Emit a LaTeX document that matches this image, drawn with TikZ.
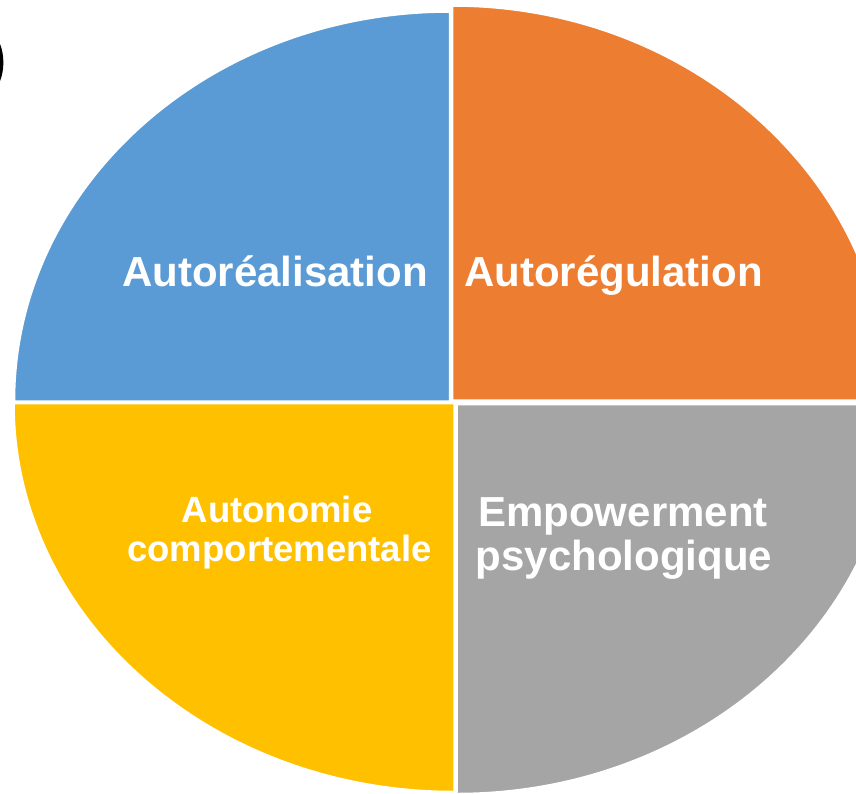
\documentclass[tikz,border=0pt]{standalone}
\usepackage{fontspec}
\setmainfont{Liberation Sans}
\definecolor{qblue}{HTML}{5B9BD5}
\definecolor{qorange}{HTML}{ED7D31}
\definecolor{qyellow}{HTML}{FFC000}
\definecolor{qgray}{HTML}{A5A5A5}
\tikzset{
  quad/.style={draw=white, line width=1.5pt, line join=miter},
  bigtxt/.style={text=white, font=\fontsize{42}{44}\selectfont\bfseries, inner sep=0pt, anchor=base},
  midtxt/.style={text=white, font=\fontsize{36.5}{38}\selectfont\bfseries, inner sep=0pt, anchor=base}
}
\begin{document}
\begin{tikzpicture}[x=1pt,y=-1pt]
\useasboundingbox (0,0) rectangle (856,793);
\clip (0,0) rectangle (856,793);
% quadrants (image coordinates, y downward)
\coordinate (cb) at (449.5,401);
\coordinate (co) at (452.5,400);
\coordinate (cy) at (454,403.5);
\coordinate (cg) at (457,404.5);
\fill[qblue, quad] (cb) -- ++(-435,0) arc[start angle=180, end angle=270, x radius=435, y radius=389] -- cycle;
\fill[qorange, quad] (co) -- ++(0,-394) arc[start angle=270, end angle=360, x radius=435, y radius=394] -- cycle;
\fill[qgray, quad] (cg) -- ++(438,0) arc[start angle=0, end angle=90, x radius=438, y radius=389] -- cycle;
\fill[qyellow, quad] (cy) -- ++(0,388) arc[start angle=90, end angle=180, x radius=440, y radius=388] -- cycle;
% partial glyph at top-left edge
\fill[black] (0,44) .. controls (4.5,55) and (4.5,70) .. (0,81) -- cycle;
% labels
\node[bigtxt] (t1) at (275,286) {Autoréalisation};
\node[bigtxt] (t2) at (613.5,286) {Autorégulation};
\node[bigtxt] (t3) at (623,526) {Empowerment};
\node[bigtxt] (t3b) at (624,570) {psychologique};
\node[midtxt] (t4) at (277,522) {Autonomie};
\node[midtxt] (t4b) at (279.5,561) {comportementale};
\end{tikzpicture}
\end{document}
